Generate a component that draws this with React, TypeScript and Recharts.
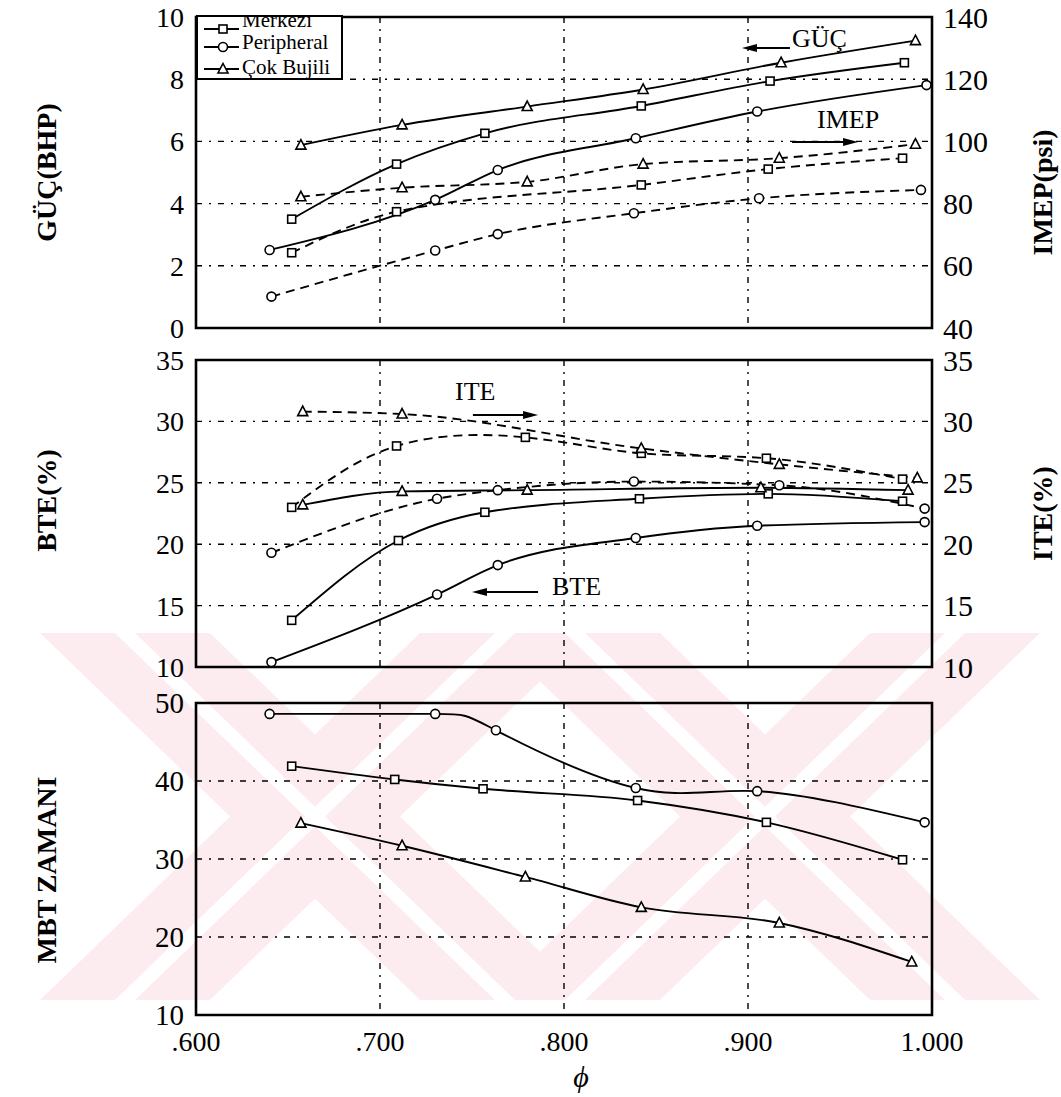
import React from 'react';
import {
  LineChart,
  Line,
  XAxis,
  YAxis,
  CartesianGrid,
  ReferenceArea,
  ReferenceLine,
  ReferenceDot,
} from 'recharts';

// φ (eşdeğerlik oranı) ve okunan değerler
const phiGucMerkezi = [0.652, 0.709, 0.757, 0.842, 0.912, 0.985];
const gucMerkezi = [3.5, 5.27, 6.26, 7.14, 7.94, 8.53];
const phiGucPeripheral = [0.64, 0.73, 0.764, 0.839, 0.905, 0.997];
const gucPeripheral = [2.51, 4.12, 5.08, 6.1, 6.96, 7.81];
const phiGucCok = [0.657, 0.712, 0.78, 0.843, 0.918, 0.991];
const gucCok = [5.88, 6.53, 7.12, 7.67, 8.53, 9.24];

const phiImepMerkezi = [0.652, 0.709, 0.842, 0.911, 0.984];
const imepMerkezi = [64.2, 77.4, 86.0, 91.1, 94.6];
const phiImepPeripheral = [0.641, 0.73, 0.764, 0.838, 0.906, 0.994];
const imepPeripheral = [50.1, 64.9, 70.2, 76.9, 81.7, 84.4];
const phiImepCok = [0.657, 0.712, 0.78, 0.843, 0.917, 0.991];
const imepCok = [82.2, 85.1, 87.0, 92.7, 94.6, 99.1];

const phiBteMerkezi = [0.652, 0.71, 0.757, 0.841, 0.911, 0.984];
const bteMerkezi = [13.8, 20.3, 22.6, 23.7, 24.1, 23.5];
const phiBtePeripheral = [0.641, 0.731, 0.764, 0.839, 0.905, 0.996];
const btePeripheral = [10.4, 15.9, 18.3, 20.5, 21.5, 21.8];
const phiBteCok = [0.658, 0.712, 0.78, 0.907, 0.987];
const bteCok = [23.2, 24.3, 24.4, 24.6, 24.4];

const phiIteMerkezi = [0.652, 0.709, 0.779, 0.842, 0.91, 0.984];
const iteMerkezi = [23.0, 28.0, 28.7, 27.4, 27.0, 25.3];
const phiItePeripheral = [0.641, 0.731, 0.764, 0.838, 0.917, 0.996];
const itePeripheral = [19.3, 23.7, 24.4, 25.1, 24.8, 22.9];
const phiIteCok = [0.658, 0.712, 0.842, 0.917, 0.992];
const iteCok = [30.8, 30.6, 27.8, 26.5, 25.4];

const phiMbtMerkezi = [0.652, 0.708, 0.756, 0.84, 0.91, 0.984];
const mbtMerkezi = [41.9, 40.2, 39.0, 37.5, 34.7, 29.9];
const phiMbtPeripheral = [0.64, 0.73, 0.763, 0.839, 0.905, 0.996];
const mbtPeripheral = [48.6, 48.6, 46.5, 39.1, 38.7, 34.7];
const phiMbtCok = [0.657, 0.712, 0.779, 0.842, 0.917, 0.989];
const mbtCok = [34.6, 31.7, 27.7, 23.8, 21.8, 16.8];

const xTicks = [0.6, 0.7, 0.8, 0.9, 1.0];
const xTickLabels = ['.600', '.700', '.800', '.900', '1.000'];
const gucTicks = [0, 2, 4, 6, 8, 10];
const imepTicks = [40, 60, 80, 100, 120, 140];
const effTicks = [10, 15, 20, 25, 30, 35];
const mbtTicks = [10, 20, 30, 40, 50];
const legendNames = ['Merkezi', 'Peripheral', 'Çok Bujili'];

const FONT = 'Liberation Serif, Times New Roman, DejaVu Serif, serif';
const W = 1061;

type Pt = { phi: number; v: number };
type Shape = 'square' | 'circle' | 'triangle';

const zip = (phi: number[], v: number[]): Pt[] => phi.map((p, i) => ({ phi: p, v: v[i] }));

function Marker({ cx, cy, shape }: { cx: number; cy: number; shape: Shape }) {
  if (cx == null || cy == null) return null;
  if (shape === 'square')
    return <rect x={cx - 4} y={cy - 4} width={8} height={8} fill="#fff" stroke="#000" strokeWidth={1.6} />;
  if (shape === 'circle') return <circle cx={cx} cy={cy} r={4.5} fill="#fff" stroke="#000" strokeWidth={1.6} />;
  return (
    <polygon
      points={`${cx},${cy - 5.5} ${cx + 5},${cy + 4} ${cx - 5},${cy + 4}`}
      fill="#fff"
      stroke="#000"
      strokeWidth={1.6}
    />
  );
}

const dot = (shape: Shape) => (p: any) => <Marker key={`${shape}-${p.index}`} cx={p.cx} cy={p.cy} shape={shape} />;

const series = (
  name: string,
  data: Pt[],
  shape: Shape,
  dashed: boolean,
  yAxisId: string,
  curve: 'monotone' | 'natural' = 'monotone'
) => (
  <Line
    key={name}
    name={name}
    data={data}
    dataKey="v"
    yAxisId={yAxisId}
    type={curve}
    stroke="#000"
    strokeWidth={1.9}
    strokeDasharray={dashed ? '9 6' : undefined}
    dot={dot(shape)}
    activeDot={false}
    isAnimationActive={false}
  />
);

const tickStyle = (size: number) => ({ fill: '#000', fontSize: size, fontFamily: FONT, style: { fontFamily: FONT } });

const sideTitle = (text: string, dx: number, dy = 0) => (props: any) => {
  const vb = props.viewBox || { x: 0, y: 0, width: 0, height: 0 };
  const cx = vb.x + dx;
  const cy = vb.y + vb.height / 2 + dy;
  return (
    <text
      x={cx}
      y={cy}
      transform={`rotate(-90 ${cx} ${cy})`}
      textAnchor="middle"
      dominantBaseline="central"
      style={{ fontFamily: FONT, fontWeight: 'bold', fontSize: 28 }}
      fill="#000"
    >
      {text}
    </text>
  );
};

const arrowShape = (p: any) => {
  const { x1, y1, x2, y2 } = p;
  const dir = Math.sign(x2 - x1) || 1;
  return (
    <g>
      <line x1={x1} y1={y1} x2={x2 - dir * 8} y2={y2} stroke="#000" strokeWidth={2} />
      <polygon points={`${x2},${y2} ${x2 - dir * 15},${y2 - 4} ${x2 - dir * 15},${y2 + 4}`} fill="#000" />
    </g>
  );
};

const note = (text: string) => (p: any) => (
  <text x={p.cx} y={p.cy} style={{ fontFamily: FONT, fontSize: 26 }} fill="#000">
    {text}
  </text>
);

const grids = (yAxisId: string) => [
  <CartesianGrid
    key="h"
    yAxisId={yAxisId}
    vertical={false}
    stroke="#000"
    strokeWidth={1.4}
    strokeDasharray="6 7 2 7"
  />,
  <CartesianGrid
    key="v"
    yAxisId={yAxisId}
    horizontal={false}
    stroke="#000"
    strokeWidth={1.4}
    strokeDasharray="6 6 2 6"
  />,
];

const hiddenX = (
  <XAxis type="number" dataKey="phi" domain={[0.6, 1]} ticks={xTicks} allowDataOverflow hide />
);

function TopPanel() {
  return (
    <LineChart width={W} height={360} margin={{ top: 17, right: 0, bottom: 32, left: 0 }}>
      {hiddenX}
      <YAxis
        yAxisId="left"
        domain={[0, 10]}
        ticks={gucTicks}
        interval={0}
        width={196}
        tickLine={false}
        axisLine={false}
        tickSize={0}
        tickMargin={12}
        tick={tickStyle(28)}
        label={sideTitle('GÜÇ(BHP)', 46)}
      />
      <YAxis
        yAxisId="right"
        orientation="right"
        domain={[40, 140]}
        ticks={imepTicks}
        interval={0}
        width={129}
        tickLine={false}
        axisLine={false}
        tickSize={0}
        tickMargin={11}
        tick={tickStyle(30)}
        label={sideTitle('IMEP(psi)', 110, 20)}
      />
      {grids('left')}
      <ReferenceArea yAxisId="left" x1={0.6} x2={1} y1={0} y2={10} fill="none" stroke="#000" strokeWidth={2.6} />
      {series('gm', zip(phiGucMerkezi, gucMerkezi), 'square', false, 'left')}
      {series('gp', zip(phiGucPeripheral, gucPeripheral), 'circle', false, 'left')}
      {series('gc', zip(phiGucCok, gucCok), 'triangle', false, 'left')}
      {series('im', zip(phiImepMerkezi, imepMerkezi), 'square', true, 'right')}
      {series('ip', zip(phiImepPeripheral, imepPeripheral), 'circle', true, 'right')}
      {series('ic', zip(phiImepCok, imepCok), 'triangle', true, 'right')}
      <ReferenceLine yAxisId="left" segment={[{ x: 0.9228, y: 9.0 }, { x: 0.8967, y: 9.0 }]} shape={arrowShape} />
      <ReferenceDot yAxisId="left" x={0.9239} y={9.04} r={0} shape={note('GÜÇ')} />
      <ReferenceLine yAxisId="left" segment={[{ x: 0.9239, y: 5.98 }, { x: 0.9598, y: 5.98 }]} shape={arrowShape} />
      <ReferenceDot yAxisId="left" x={0.9375} y={6.43} r={0} shape={note('IMEP')} />
    </LineChart>
  );
}

function MiddlePanel() {
  return (
    <LineChart width={W} height={360} margin={{ top: 20, right: 0, bottom: 33, left: 0 }}>
      {hiddenX}
      <YAxis
        yAxisId="left"
        domain={[10, 35]}
        ticks={effTicks}
        interval={0}
        width={196}
        tickLine={false}
        axisLine={false}
        tickSize={0}
        tickMargin={12}
        tick={tickStyle(28)}
        label={sideTitle('BTE(%)', 46, -13)}
      />
      <YAxis
        yAxisId="right"
        orientation="right"
        domain={[10, 35]}
        ticks={effTicks}
        interval={0}
        width={129}
        tickLine={false}
        axisLine={false}
        tickSize={0}
        tickMargin={11}
        tick={tickStyle(30)}
        label={sideTitle('ITE(%)', 110)}
      />
      {grids('left')}
      <ReferenceArea yAxisId="left" x1={0.6} x2={1} y1={10} y2={35} fill="none" stroke="#000" strokeWidth={2.6} />
      {series('bm', zip(phiBteMerkezi, bteMerkezi), 'square', false, 'left')}
      {series('bp', zip(phiBtePeripheral, btePeripheral), 'circle', false, 'left')}
      {series('bc', zip(phiBteCok, bteCok), 'triangle', false, 'left')}
      {series('tm', zip(phiIteMerkezi, iteMerkezi), 'square', true, 'right', 'natural')}
      {series('tp', zip(phiItePeripheral, itePeripheral), 'circle', true, 'right')}
      {series('tc', zip(phiIteCok, iteCok), 'triangle', true, 'right')}
      <ReferenceLine yAxisId="left" segment={[{ x: 0.7505, y: 30.52 }, { x: 0.7859, y: 30.52 }]} shape={arrowShape} />
      <ReferenceDot yAxisId="left" x={0.7408} y={31.74} r={0} shape={note('ITE')} />
      <ReferenceLine yAxisId="left" segment={[{ x: 0.7859, y: 16.11 }, { x: 0.75, y: 16.11 }]} shape={arrowShape} />
      <ReferenceDot yAxisId="left" x={0.7935} y={15.86} r={0} shape={note('BTE')} />
    </LineChart>
  );
}

const phiLabel = (props: any) => {
  const vb = props.viewBox || { x: 0, y: 0, width: 0, height: 0 };
  const cx = vb.x + vb.width / 2 + 17;
  const cy = vb.y + 61;
  return (
    <text
      x={cx}
      y={cy}
      textAnchor="middle"
      dominantBaseline="central"
      style={{ fontFamily: FONT, fontStyle: 'italic', fontSize: 30 }}
    >
      ϕ
    </text>
  );
};

function BottomPanel() {
  return (
    <LineChart width={W} height={417} margin={{ top: 23, right: 129, bottom: 42, left: 0 }}>
      <XAxis
        type="number"
        dataKey="phi"
        domain={[0.6, 1]}
        ticks={xTicks}
        interval={0}
        allowDataOverflow
        height={40}
        tickLine={false}
        axisLine={false}
        tickSize={0}
        tickMargin={16}
        tick={tickStyle(28)}
        tickFormatter={(v: number) => xTickLabels[xTicks.indexOf(v)] ?? String(v)}
        label={phiLabel}
      />
      <YAxis
        yAxisId="left"
        domain={[10, 50]}
        ticks={mbtTicks}
        interval={0}
        width={196}
        tickLine={false}
        axisLine={false}
        tickSize={0}
        tickMargin={12}
        tick={tickStyle(29)}
        label={sideTitle('MBT ZAMANI', 46, 11)}
      />
      {grids('left')}
      <ReferenceArea yAxisId="left" x1={0.6} x2={1} y1={10} y2={50} fill="none" stroke="#000" strokeWidth={2.6} />
      {series('mm', zip(phiMbtMerkezi, mbtMerkezi), 'square', false, 'left')}
      {series('mp', zip(phiMbtPeripheral, mbtPeripheral), 'circle', false, 'left', 'natural')}
      {series('mc', zip(phiMbtCok, mbtCok), 'triangle', false, 'left')}
    </LineChart>
  );
}

function LegendBox() {
  const shapes: Shape[] = ['square', 'circle', 'triangle'];
  const lineY = [15, 33, 55];
  const textY = [13, 35, 60];
  return (
    <div
      style={{
        position: 'absolute',
        left: 196,
        top: 15,
        width: 147,
        height: 65,
        overflow: 'hidden',
        background: '#fff',
        borderRight: '2px solid #000',
        borderBottom: '2px solid #000',
        borderTop: '2.6px solid #000',
        borderLeft: '2.6px solid #000',
        boxSizing: 'border-box',
      }}
    >
      <svg width={147} height={65} style={{ position: 'absolute', left: -2.6, top: -2.6 }}>
        {legendNames.map((n, i) => (
          <g key={n}>
            <line x1={9} x2={44} y1={lineY[i]} y2={lineY[i]} stroke="#000" strokeWidth={1.8} />
            <Marker cx={28} cy={lineY[i]} shape={shapes[i]} />
            <text x={47} y={textY[i]} style={{ fontFamily: FONT, fontSize: 21 }} fill="#000">
              {n}
            </text>
          </g>
        ))}
      </svg>
    </div>
  );
}

function Watermark() {
  const pink = '#fdecef';
  const arms = [
    '40,633 210,633 590,1000 420,1000',
    '420,633 590,633 210,1000 40,1000',
    '490,633 660,633 1040,1000 870,1000',
    '870,633 1040,633 660,1000 490,1000',
  ];
  const stripes = [
    '115,633 135,633 515,1000 495,1000',
    '495,633 515,633 135,1000 115,1000',
    '565,633 585,633 965,1000 945,1000',
    '945,633 965,633 585,1000 565,1000',
  ];
  return (
    <svg width={W} height={1097} style={{ position: 'absolute', left: 0, top: 0 }}>
      {arms.map((p) => (
        <polygon key={p} points={p} fill={pink} />
      ))}
      {stripes.map((p) => (
        <polygon key={p} points={p} fill="#fff" />
      ))}
    </svg>
  );
}

export default function App() {
  return (
    <div style={{ position: 'absolute', left: 0, top: 0, width: W, height: 1097, background: '#fff', fontFamily: FONT }}>
      <Watermark />
      <div style={{ position: 'absolute', left: 0, top: 0 }}>
        <TopPanel />
      </div>
      <div style={{ position: 'absolute', left: 0, top: 340 }}>
        <MiddlePanel />
      </div>
      <div style={{ position: 'absolute', left: 0, top: 680 }}>
        <BottomPanel />
      </div>
      <LegendBox />
    </div>
  );
}
